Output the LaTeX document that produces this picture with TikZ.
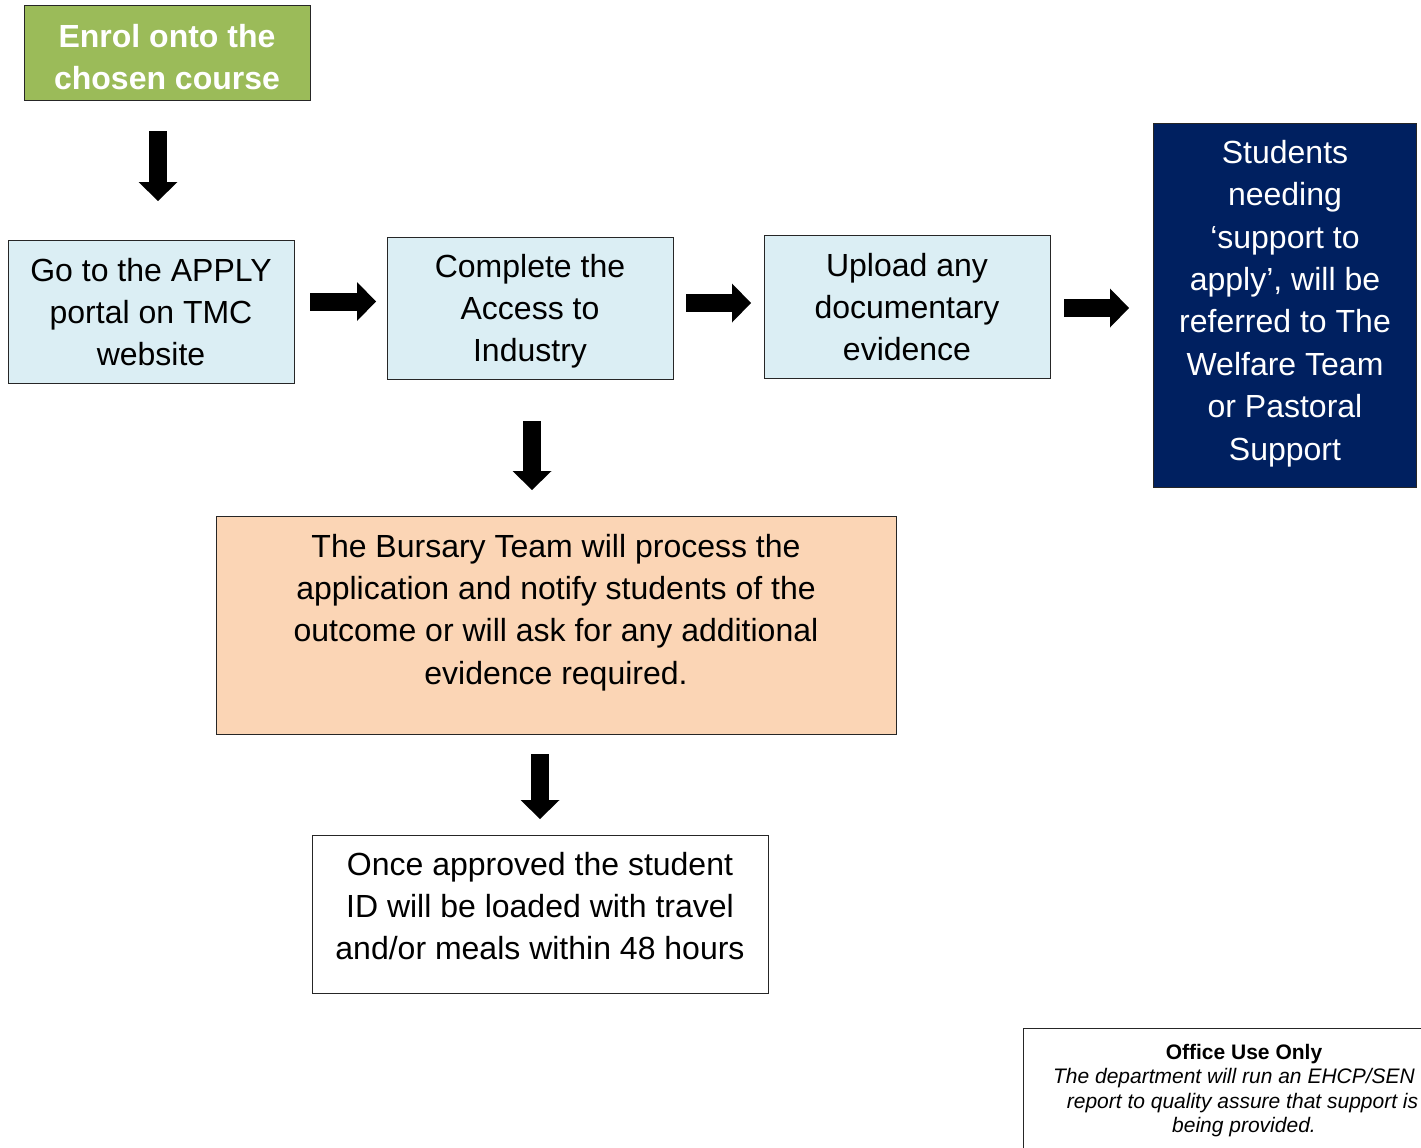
\documentclass[tikz,border=0pt]{standalone}
\usepackage{fontspec}
\setmainfont{Liberation Sans}
\usetikzlibrary{arrows.meta}
\definecolor{enrolgreen}{HTML}{9BBB59}
\definecolor{lightblue}{HTML}{DBEEF4}
\definecolor{peach}{HTML}{FBD5B5}
\definecolor{navy}{HTML}{002060}
\tikzset{
  box/.style={draw=black!85, line width=1pt, inner sep=0pt},
  txt/.style={align=center, inner sep=0pt, font=\fontsize{32}{42}\selectfont},
  barrow/.style={line width=18pt, -{Triangle[length=19pt,width=39pt,line width=0pt]}},
}
\begin{document}
\begin{tikzpicture}[x=1pt,y=-1pt]
\useasboundingbox (0,0) rectangle (1421,1148);
\clip (0,0) rectangle (1421,1148);
% boxes
\node[box, fill=enrolgreen, minimum width=286pt, minimum height=94pt] (enrol) at (167,53) {};
\node[txt, text=white, font=\fontsize{32}{42}\selectfont\bfseries] (enrolt) at (167,57) {Enrol onto the\\chosen course};
\node[box, fill=lightblue, minimum width=286pt, minimum height=143pt] (go) at (151,311.5) {};
\node[txt] (got) at (151,312) {Go to the APPLY\\portal on TMC\\website};
\node[box, fill=lightblue, minimum width=286pt, minimum height=142pt] (comp) at (530,308) {};
\node[txt] (compt) at (530,311.5) {Complete the\\Access to\\Industry};
\node[box, fill=lightblue, minimum width=286pt, minimum height=143pt] (up) at (907,306.5) {};
\node[txt] (upt) at (907,307) {Upload any\\documentary\\evidence};
\node[box, fill=navy, minimum width=263pt, minimum height=364pt] (stu) at (1284.5,305) {};
\node[txt, text=white, font=\fontsize{32}{42.4}\selectfont] (stut) at (1285,303.5) {Students\\needing\\‘support to\\apply’, will be\\referred to The\\Welfare Team\\or Pastoral\\Support};
\node[box, fill=peach, minimum width=680pt, minimum height=218pt] (bur) at (556,625) {};
\node[txt, font=\fontsize{32}{42.3}\selectfont] (burt) at (556,612.5) {The Bursary Team will process the\\application and notify students of the\\outcome or will ask for any additional\\evidence required.};
\node[box, fill=white, minimum width=456pt, minimum height=158pt] (once) at (540,914) {};
\node[txt] (oncet) at (540,906) {Once approved the student\\ID will be loaded with travel\\and/or meals within 48 hours};
\node[box, fill=white, minimum width=442pt, minimum height=140pt, anchor=north west] (office) at (1023,1028) {};
\node[align=center, inner sep=0pt, anchor=north, font=\fontsize{21}{24.5}\selectfont] (officet) at (1244,1044) {\textbf{Office Use Only}\\\textit{The department will run an EHCP/SEN}\kern20pt\\\textit{report to quality assure that support is}\kern3pt\\\textit{being provided.}};
% arrows
\coordinate (a1s) at (158,131); \coordinate (a1e) at (158,201);
\coordinate (a2s) at (310,301.5); \coordinate (a2e) at (376,301.5);
\coordinate (a3s) at (686,303); \coordinate (a3e) at (751,303);
\coordinate (a4s) at (1064,308); \coordinate (a4e) at (1129,308);
\coordinate (a5s) at (532,421); \coordinate (a5e) at (532,490);
\coordinate (a6s) at (540,754); \coordinate (a6e) at (540,819);
\draw[barrow] (a1s) -- (a1e);
\draw[barrow] (a2s) -- (a2e);
\draw[barrow] (a3s) -- (a3e);
\draw[barrow] (a4s) -- (a4e);
\draw[barrow] (a5s) -- (a5e);
\draw[barrow] (a6s) -- (a6e);
\end{tikzpicture}
\end{document}
